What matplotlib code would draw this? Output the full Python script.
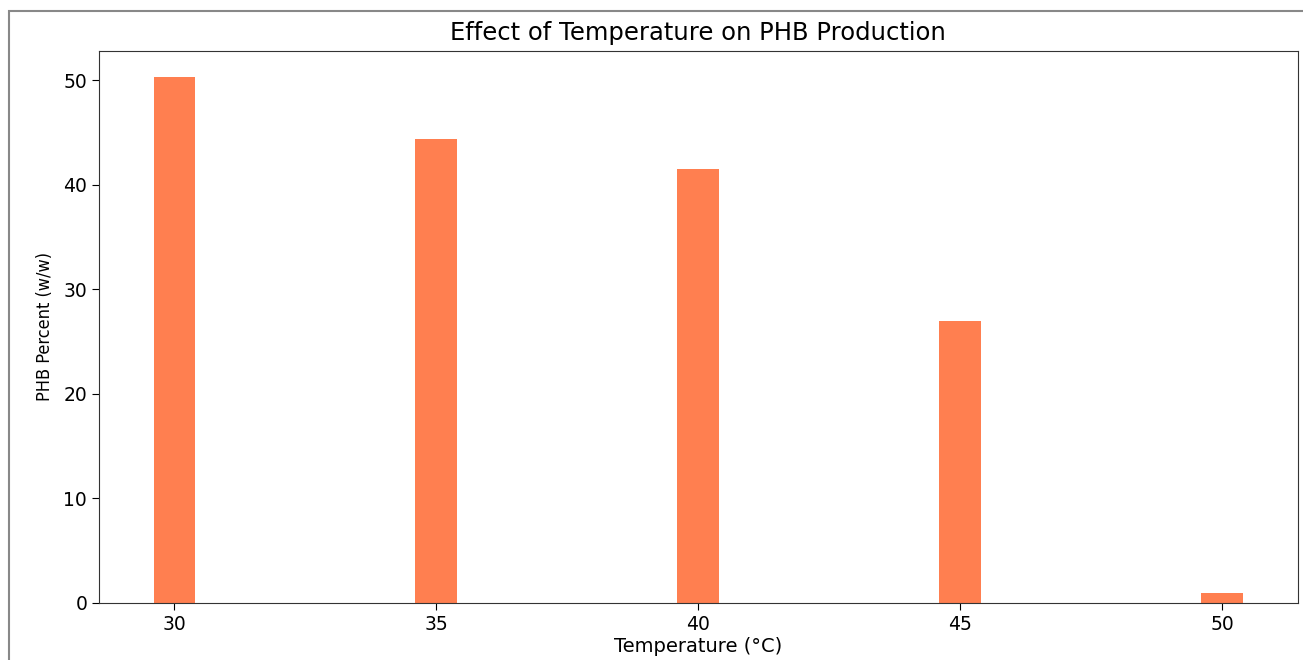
import matplotlib

matplotlib.use("Agg")

import matplotlib.pyplot as plt
from matplotlib.patches import Rectangle


temperatures = [30, 35, 40, 45, 50]
phb_percent = [50.3, 44.4, 41.5, 27.0, 1.0]

BAR_COLOR = "coral"

fig = plt.figure(figsize=(13.03, 6.6), dpi=100)
ax = fig.add_axes([0.076, 0.0864, 0.9198, 0.8363])

ax.bar(temperatures, phb_percent, width=0.8, color=BAR_COLOR)
ax.set_xticks(temperatures)
ax.set_yticks([0, 10, 20, 30, 40, 50])
ax.tick_params(labelsize=13.5, length=5)

ax.set_title("Effect of Temperature on PHB Production", fontsize=17.5, pad=8)
ax.set_xlabel("Temperature (°C)", fontsize=14, labelpad=2)
ax.set_ylabel("PHB Percent (w/w)", fontsize=13, fontstretch="condensed",
              family=["DejaVu Sans"], labelpad=7)

for spine in ax.spines.values():
    spine.set_color("#333333")

# grey screenshot frame around the figure
fig.patches.append(Rectangle((9 / 1303, -0.1), 1.2, 1 - 11 / 660 + 0.1,
                             transform=fig.transFigure, fill=False,
                             edgecolor="#888888", linewidth=1.5))

fig.savefig("out.png", dpi=100)
